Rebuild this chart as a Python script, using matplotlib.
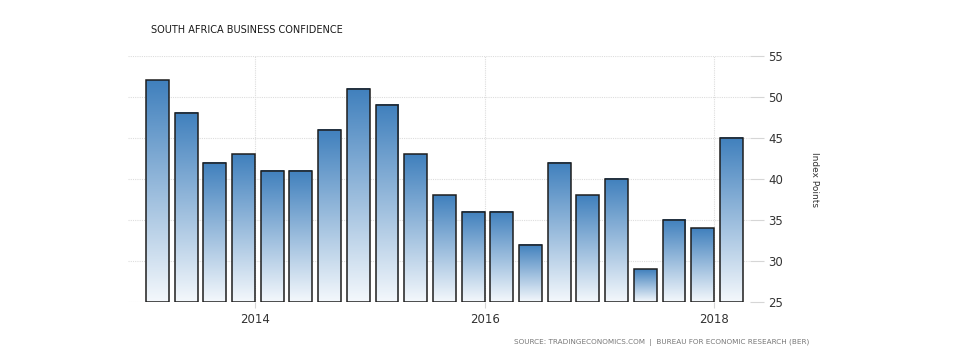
import matplotlib
matplotlib.use("Agg")
import matplotlib.pyplot as plt
from matplotlib.colors import LinearSegmentedColormap
import numpy as np

# Quarterly business confidence, 2013 Q1 .. 2018 Q1
quarters = [2013.15 + 0.25 * i for i in range(21)]
confidence = [52, 48, 42, 43, 41, 41, 46, 51, 49, 43, 38, 36, 36, 32,
              42, 38, 40, 29, 35, 34, 45]
year_ticks = [2014, 2016, 2018]
y_ticks = [25, 30, 35, 40, 45, 50, 55]

fig = plt.figure(figsize=(9.57, 3.57), dpi=100)
ax = fig.add_axes([128 / 957, 1 - 302.3 / 357, (750 - 128) / 957, (302.3 - 55.7) / 357])

base = 25
bars = ax.bar(quarters, np.array(confidence) - base, bottom=base, width=0.2,
              facecolor="none", edgecolor="#1e1e1e", linewidth=1.1, zorder=4)

# vertical gradient inside each bar, dark at the top
cmap = LinearSegmentedColormap.from_list("blues", ["#f4f8fc", "#4080bd"])
grad = np.linspace(0, 1, 256).reshape(-1, 1)
for b in bars:
    x0, y0, w, h = b.get_x(), b.get_y(), b.get_width(), b.get_height()
    ax.imshow(grad, cmap=cmap, origin="lower", aspect="auto",
              extent=(x0, x0 + w, y0, y0 + h), zorder=3, interpolation="bilinear")

ax.set_xlim(2012.894, 2018.312)
ax.set_ylim(25, 55)

ax.set_xticks(year_ticks)
ax.set_xticklabels([str(y) for y in year_ticks])
ax.set_yticks(y_ticks)
ax.yaxis.tick_right()
ax.tick_params(axis="y", length=10, width=0.8, color="#d6d6d6", pad=3,
               labelsize=8.5, labelcolor="#333333")
ax.tick_params(axis="x", length=4, width=0.8, color="#d6d6d6", pad=4,
               labelsize=8.5, labelcolor="#333333")
ax.grid(True, linestyle=(0, (1, 1)), color="#dddddd", linewidth=0.8, zorder=0)
ax.set_axisbelow(True)
for s in ax.spines.values():
    s.set_visible(False)

fig.text(151 / 957, 1 - 30 / 357, "SOUTH AFRICA BUSINESS CONFIDENCE",
         fontsize=7, color="#1a1a1a", va="center", ha="left")
fig.text(815 / 957, 1 - 180 / 357, "Index Points", rotation=-90,
         fontsize=6.5, color="#333333", va="center", ha="center")
fig.text(809 / 957, 1 - 343 / 357,
         "SOURCE: TRADINGECONOMICS.COM  |  BUREAU FOR ECONOMIC RESEARCH (BER)",
         fontsize=5.2, color="#777777", va="center", ha="right")

fig.savefig("out.png", dpi=100)
